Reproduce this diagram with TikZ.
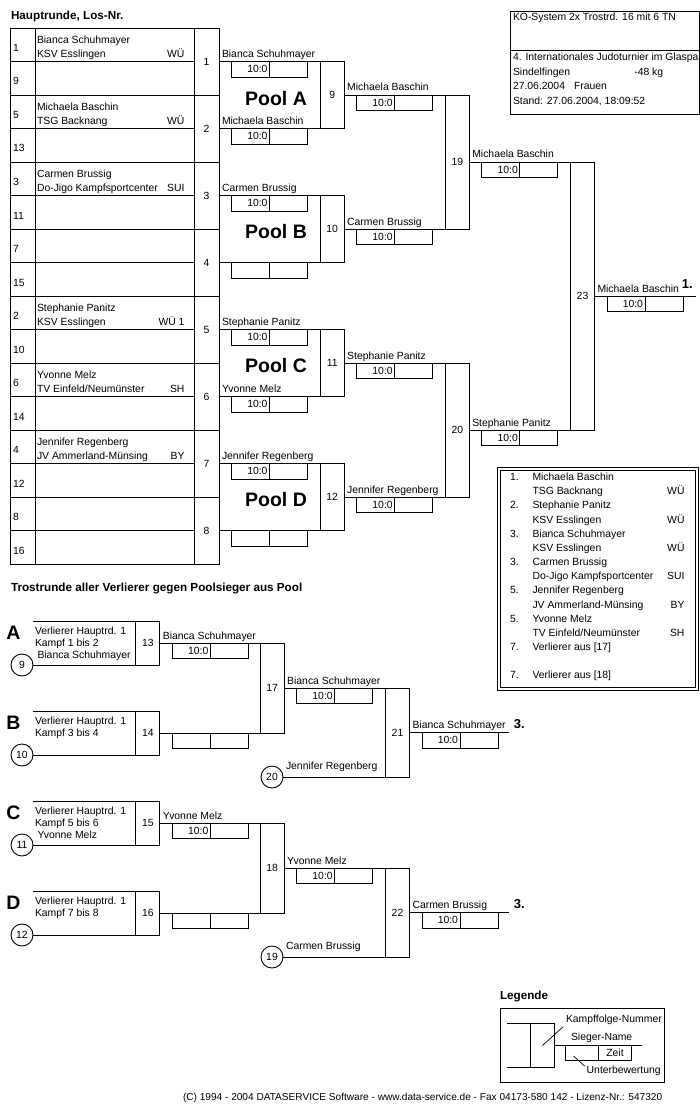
\documentclass[tikz,border=0pt]{standalone}
\usepackage{fontspec}
\setmainfont{Liberation Sans}
\begin{document}
\begin{tikzpicture}[x=1pt,y=-1pt,line width=0.9pt,
  txt/.style={font=\fontsize{10.4}{12}\selectfont,inner sep=0pt,outer sep=0pt},
  titel/.style={font=\bfseries\fontsize{11.7}{13}\selectfont,inner sep=0pt,outer sep=0pt},
  poolname/.style={font=\bfseries\fontsize{19.5}{22}\selectfont,inner sep=0pt},
  platz/.style={font=\bfseries\fontsize{13}{14}\selectfont,inner sep=0pt},
  kampf/.style={draw,txt,minimum width=24pt},
  losbox/.style={draw,txt,minimum width=25pt,minimum height=67pt},
  erg/.style={draw,txt,anchor=north west,xshift=12.5pt,minimum height=15.5pt,text width=34pt,inner xsep=2pt,align=right},
  leer/.style={draw,anchor=west,minimum width=38pt,minimum height=15.5pt,inner sep=0pt,outer sep=0pt},
  sieger/.style={txt,anchor=base west,xshift=3pt,yshift=4pt},
  kreis/.style={draw,circle,txt,minimum size=22pt}]
\useasboundingbox (0,0) rectangle (700,1110);
\fill[white] (0,0) rectangle (700,1110);

% Hauptrunde
\node[titel,anchor=base west] (haupt) at (11,20) {Hauptrunde, Los-Nr.};
\draw (10,28) rectangle (194,564);
\draw (35,28) -- (35,564);
\draw (10,61.5) -- (194,61.5);
\draw (10,95) -- (194,95);
\draw (10,128.5) -- (194,128.5);
\draw (10,162) -- (194,162);
\draw (10,195.5) -- (194,195.5);
\draw (10,229) -- (194,229);
\draw (10,262.5) -- (194,262.5);
\draw (10,296) -- (194,296);
\draw (10,329.5) -- (194,329.5);
\draw (10,363) -- (194,363);
\draw (10,396.5) -- (194,396.5);
\draw (10,430) -- (194,430);
\draw (10,463.5) -- (194,463.5);
\draw (10,497) -- (194,497);
\draw (10,530.5) -- (194,530.5);

\node[txt,anchor=base west] (los1) at (13,51.5) {1};
\node[txt,anchor=base west] (los9) at (13,85) {9};
\node[txt,anchor=base west] (los5) at (13,118.5) {5};
\node[txt,anchor=base west] (los13) at (13,152) {13};
\node[txt,anchor=base west] (los3) at (13,185.5) {3};
\node[txt,anchor=base west] (los11) at (13,219) {11};
\node[txt,anchor=base west] (los7) at (13,252.5) {7};
\node[txt,anchor=base west] (los15) at (13,286) {15};
\node[txt,anchor=base west] (los2) at (13,319.5) {2};
\node[txt,anchor=base west] (los10) at (13,353) {10};
\node[txt,anchor=base west] (los6) at (13,386.5) {6};
\node[txt,anchor=base west] (los14) at (13,420) {14};
\node[txt,anchor=base west] (los4) at (13,453.5) {4};
\node[txt,anchor=base west] (los12) at (13,487) {12};
\node[txt,anchor=base west] (los8) at (13,520.5) {8};
\node[txt,anchor=base west] (los16) at (13,554) {16};

\node[txt,anchor=base west] (name1) at (37,43.3) {Bianca Schuhmayer};
\node[txt,anchor=base west] (verein1) at (37,57.3) {KSV Esslingen};
\node[txt,anchor=base east] (lv1) at (184.5,57.3) {WÜ};
\node[txt,anchor=base west] (name5) at (37,110.3) {Michaela Baschin};
\node[txt,anchor=base west] (verein5) at (37,124.3) {TSG Backnang};
\node[txt,anchor=base east] (lv5) at (184.5,124.3) {WÜ};
\node[txt,anchor=base west] (name3) at (37,177.3) {Carmen Brussig};
\node[txt,anchor=base west] (verein3) at (37,191.3) {Do-Jigo Kampfsportcenter};
\node[txt,anchor=base east] (lv3) at (184.5,191.3) {SUI};
\node[txt,anchor=base west] (name2) at (37,311.3) {Stephanie Panitz};
\node[txt,anchor=base west] (verein2) at (37,325.3) {KSV Esslingen};
\node[txt,anchor=base east] (lv2) at (184.5,325.3) {WÜ 1};
\node[txt,anchor=base west] (name6) at (37,378.3) {Yvonne Melz};
\node[txt,anchor=base west] (verein6) at (37,392.3) {TV Einfeld/Neumünster};
\node[txt,anchor=base east] (lv6) at (184.5,392.3) {SH};
\node[txt,anchor=base west] (name4) at (37,445.3) {Jennifer Regenberg};
\node[txt,anchor=base west] (verein4) at (37,459.3) {JV Ammerland-Münsing};
\node[txt,anchor=base east] (lv4) at (184.5,459.3) {BY};

% Kampfboxen
\node[losbox] (f1) at (206.5,61.5) {1};
\node[losbox] (f2) at (206.5,128.5) {2};
\node[losbox] (f3) at (206.5,195.5) {3};
\node[losbox] (f4) at (206.5,262.5) {4};
\node[losbox] (f5) at (206.5,329.5) {5};
\node[losbox] (f6) at (206.5,396.5) {6};
\node[losbox] (f7) at (206.5,463.5) {7};
\node[losbox] (f8) at (206.5,530.5) {8};
\node[kampf,minimum height=67pt] (f9) at (332.2,95) {9};
\node[kampf,minimum height=67pt] (f10) at (332.2,229) {10};
\node[kampf,minimum height=67pt] (f11) at (332.2,363) {11};
\node[kampf,minimum height=67pt] (f12) at (332.2,497) {12};
\node[kampf,minimum height=134pt] (f19) at (457.3,162) {19};
\node[kampf,minimum height=134pt] (f20) at (457.3,430) {20};
\node[kampf,minimum height=268pt] (f23) at (582.5,296) {23};
\coordinate (ziel1) at (696,296);

\draw (f1.east) -- (f9.north east);
\draw (f2.east) -- (f9.south east);
\draw (f3.east) -- (f10.north east);
\draw (f4.east) -- (f10.south east);
\draw (f5.east) -- (f11.north east);
\draw (f6.east) -- (f11.south east);
\draw (f7.east) -- (f12.north east);
\draw (f8.east) -- (f12.south east);
\draw (f9.east) -- (f19.north east);
\draw (f10.east) -- (f19.south east);
\draw (f11.east) -- (f20.north east);
\draw (f12.east) -- (f20.south east);
\draw (f19.east) -- (f23.north east);
\draw (f20.east) -- (f23.south east);
\draw (f23.east) -- (ziel1);

\node[poolname] (poolA) at (276,98.5) {Pool A};
\node[poolname] (poolB) at (276,232) {Pool B};
\node[poolname] (poolC) at (276,366) {Pool C};
\node[poolname] (poolD) at (276,500) {Pool D};

\node[sieger] (s1) at (f1.east) {Bianca Schuhmayer};
\node[erg] (e1) at (f1.east) {10:0};
\node[leer] (e1r) at (e1.east) {};
\node[sieger] (s2) at (f2.east) {Michaela Baschin};
\node[erg] (e2) at (f2.east) {10:0};
\node[leer] (e2r) at (e2.east) {};
\node[sieger] (s3) at (f3.east) {Carmen Brussig};
\node[erg] (e3) at (f3.east) {10:0};
\node[leer] (e3r) at (e3.east) {};
\node[erg] (e4) at (f4.east) {};
\node[leer] (e4r) at (e4.east) {};
\node[sieger] (s5) at (f5.east) {Stephanie Panitz};
\node[erg] (e5) at (f5.east) {10:0};
\node[leer] (e5r) at (e5.east) {};
\node[sieger] (s6) at (f6.east) {Yvonne Melz};
\node[erg] (e6) at (f6.east) {10:0};
\node[leer] (e6r) at (e6.east) {};
\node[sieger] (s7) at (f7.east) {Jennifer Regenberg};
\node[erg] (e7) at (f7.east) {10:0};
\node[leer] (e7r) at (e7.east) {};
\node[erg] (e8) at (f8.east) {};
\node[leer] (e8r) at (e8.east) {};
\node[sieger] (s9) at (f9.east) {Michaela Baschin};
\node[erg] (e9) at (f9.east) {10:0};
\node[leer] (e9r) at (e9.east) {};
\node[sieger] (s10) at (f10.east) {Carmen Brussig};
\node[erg] (e10) at (f10.east) {10:0};
\node[leer] (e10r) at (e10.east) {};
\node[sieger] (s11) at (f11.east) {Stephanie Panitz};
\node[erg] (e11) at (f11.east) {10:0};
\node[leer] (e11r) at (e11.east) {};
\node[sieger] (s12) at (f12.east) {Jennifer Regenberg};
\node[erg] (e12) at (f12.east) {10:0};
\node[leer] (e12r) at (e12.east) {};
\node[sieger] (s19) at (f19.east) {Michaela Baschin};
\node[erg] (e19) at (f19.east) {10:0};
\node[leer] (e19r) at (e19.east) {};
\node[sieger] (s20) at (f20.east) {Stephanie Panitz};
\node[erg] (e20) at (f20.east) {10:0};
\node[leer] (e20r) at (e20.east) {};
\node[sieger] (s23) at (f23.east) {Michaela Baschin};
\node[erg] (e23) at (f23.east) {10:0};
\node[leer] (e23r) at (e23.east) {};
\node[platz,anchor=base west] (platz1) at (681.5,288.5) {1.};

% Kopf
\draw (510.7,11) rectangle (699.3,114.3);
\draw (510.7,50) -- (699.3,50);
\begin{scope}
\clip (510.7,11) rectangle (699.3,114.3);
\node[txt,anchor=base west] (kopf1) at (513,21) {KO-System 2x Trostrd. 16 mit 6 TN};
\node[txt,anchor=base west] (kopf2) at (513,60.3) {4. Internationales Judoturnier im Glaspa};
\node[txt,anchor=base west] (kopf3) at (513,75.3) {Sindelfingen};
\node[txt,anchor=base west] (kopf3b) at (634.3,75.3) {-48 kg};
\node[txt,anchor=base west] (kopf4) at (513,89.3) {27.06.2004};
\node[txt,anchor=base west] (kopf4b) at (574,89.3) {Frauen};
\node[txt,anchor=base west] (kopf5) at (513,104.3) {Stand: 27.06.2004, 18:09:52};
\end{scope}

% Platzierungen
\draw (497,467) rectangle (698,690);
\draw (500,470) rectangle (695,687);
\node[txt,anchor=base west] (p1) at (510,480.5) {1.};
\node[txt,anchor=base west] (pn1) at (532.5,480.5) {Michaela Baschin};
\node[txt,anchor=base west] (pv1) at (532.5,494.8) {TSG Backnang};
\node[txt,anchor=base east] (pl1) at (684.5,494.8) {WÜ};
\node[txt,anchor=base west] (p2) at (510,508.8) {2.};
\node[txt,anchor=base west] (pn2) at (532.5,508.8) {Stephanie Panitz};
\node[txt,anchor=base west] (pv2) at (532.5,523.1) {KSV Esslingen};
\node[txt,anchor=base east] (pl2) at (684.5,523.1) {WÜ};
\node[txt,anchor=base west] (p3) at (510,537.1) {3.};
\node[txt,anchor=base west] (pn3) at (532.5,537.1) {Bianca Schuhmayer};
\node[txt,anchor=base west] (pv3) at (532.5,551.4) {KSV Esslingen};
\node[txt,anchor=base east] (pl3) at (684.5,551.4) {WÜ};
\node[txt,anchor=base west] (p4) at (510,565.4) {3.};
\node[txt,anchor=base west] (pn4) at (532.5,565.4) {Carmen Brussig};
\node[txt,anchor=base west] (pv4) at (532.5,579.7) {Do-Jigo Kampfsportcenter};
\node[txt,anchor=base east] (pl4) at (684.5,579.7) {SUI};
\node[txt,anchor=base west] (p5) at (510,593.7) {5.};
\node[txt,anchor=base west] (pn5) at (532.5,593.7) {Jennifer Regenberg};
\node[txt,anchor=base west] (pv5) at (532.5,608) {JV Ammerland-Münsing};
\node[txt,anchor=base east] (pl5) at (684.5,608) {BY};
\node[txt,anchor=base west] (p6) at (510,622) {5.};
\node[txt,anchor=base west] (pn6) at (532.5,622) {Yvonne Melz};
\node[txt,anchor=base west] (pv6) at (532.5,636.3) {TV Einfeld/Neumünster};
\node[txt,anchor=base east] (pl6) at (684.5,636.3) {SH};
\node[txt,anchor=base west] (p7) at (510,650.3) {7.};
\node[txt,anchor=base west] (pn7) at (532.5,650.3) {Verlierer aus [17]};
\node[txt,anchor=base west] (p8) at (510,678.6) {7.};
\node[txt,anchor=base west] (pn8) at (532.5,678.6) {Verlierer aus [18]};

% Trostrunde
\node[titel,anchor=base west] (trost) at (11,591.7) {Trostrunde aller Verlierer gegen Poolsieger aus Pool};

\node[poolname] (bA) at (13.5,632.5) {A};
\node[poolname] (bB) at (13.5,722.5) {B};
\node[poolname] (bC) at (13.5,812.5) {C};
\node[poolname] (bD) at (13.5,902.5) {D};
\coordinate (ta) at (33,621);
\coordinate (tb) at (33,711);
\coordinate (tc) at (33,801);
\coordinate (td) at (33,891);
\node[kreis] (c9) at (22,665) {9};
\node[kreis] (c10) at (22,755) {10};
\node[kreis] (c11) at (22,845) {11};
\node[kreis] (c12) at (22,935) {12};
\node[kreis] (c20) at (272,777) {20};
\node[kreis] (c19) at (272,957) {19};

\node[txt,anchor=base west] (ta1) at (35,634) {Verlierer Hauptrd. 1};
\node[txt,anchor=base west] (ta2) at (35,646) {Kampf 1 bis 2};
\node[txt,anchor=base west] (ta3) at (37.5,658) {Bianca Schuhmayer};
\node[txt,anchor=base west] (tb1) at (35,724) {Verlierer Hauptrd. 1};
\node[txt,anchor=base west] (tb2) at (35,736) {Kampf 3 bis 4};
\node[txt,anchor=base west] (tc1) at (35,814) {Verlierer Hauptrd. 1};
\node[txt,anchor=base west] (tc2) at (35,826) {Kampf 5 bis 6};
\node[txt,anchor=base west] (tc3) at (37.5,838) {Yvonne Melz};
\node[txt,anchor=base west] (td1) at (35,904) {Verlierer Hauptrd. 1};
\node[txt,anchor=base west] (td2) at (35,916) {Kampf 7 bis 8};

\node[kampf,minimum height=44pt] (f13) at (147.9,643) {13};
\node[kampf,minimum height=44pt] (f14) at (147.9,733) {14};
\node[kampf,minimum height=44pt] (f15) at (147.9,823) {15};
\node[kampf,minimum height=44pt] (f16) at (147.9,913) {16};
\node[kampf,minimum height=90pt] (f17) at (272.2,688) {17};
\node[kampf,minimum height=90pt] (f18) at (272.2,868) {18};
\node[kampf,minimum height=89pt] (f21) at (397.5,732.5) {21};
\node[kampf,minimum height=89pt] (f22) at (397.5,912.5) {22};
\coordinate (ziel3a) at (509.3,732.5);
\coordinate (ziel3b) at (509.3,912.5);

\draw (ta) -- (f13.north east);
\draw (c9) -- (f13.south east);
\draw (tb) -- (f14.north east);
\draw (c10) -- (f14.south east);
\draw (tc) -- (f15.north east);
\draw (c11) -- (f15.south east);
\draw (td) -- (f16.north east);
\draw (c12) -- (f16.south east);
\draw (f13.east) -- (f17.north east);
\draw (f14.east) -- (f17.south east);
\draw (f15.east) -- (f18.north east);
\draw (f16.east) -- (f18.south east);
\draw (f17.east) -- (f21.north east);
\draw (c20) -- (f21.south east);
\draw (f18.east) -- (f22.north east);
\draw (c19) -- (f22.south east);
\draw (f21.east) -- (ziel3a);
\draw (f22.east) -- (ziel3b);

\node[sieger] (s13) at (f13.east) {Bianca Schuhmayer};
\node[erg] (e13) at (f13.east) {10:0};
\node[leer] (e13r) at (e13.east) {};
\node[erg] (e14) at (f14.east) {};
\node[leer] (e14r) at (e14.east) {};
\node[sieger] (s17) at (f17.east) {Bianca Schuhmayer};
\node[erg] (e17) at (f17.east) {10:0};
\node[leer] (e17r) at (e17.east) {};
\node[sieger,yshift=3.5pt] (s20b) at (c20.east) {Jennifer Regenberg};
\node[sieger] (s21) at (f21.east) {Bianca Schuhmayer};
\node[erg] (e21) at (f21.east) {10:0};
\node[leer] (e21r) at (e21.east) {};
\node[platz,anchor=base west] (platz3a) at (513.5,728) {3.};

\node[sieger] (s15) at (f15.east) {Yvonne Melz};
\node[erg] (e15) at (f15.east) {10:0};
\node[leer] (e15r) at (e15.east) {};
\node[erg] (e16) at (f16.east) {};
\node[leer] (e16r) at (e16.east) {};
\node[sieger] (s18) at (f18.east) {Yvonne Melz};
\node[erg] (e18) at (f18.east) {10:0};
\node[leer] (e18r) at (e18.east) {};
\node[sieger,yshift=3.5pt] (s19b) at (c19.east) {Carmen Brussig};
\node[sieger] (s22) at (f22.east) {Carmen Brussig};
\node[erg] (e22) at (f22.east) {10:0};
\node[leer] (e22r) at (e22.east) {};
\node[platz,anchor=base west] (platz3b) at (513.5,908) {3.};

% Legende
\node[titel,anchor=base west] (leg) at (500,999.5) {Legende};
\draw (500,1008) rectangle (664,1082);
\node[kampf,minimum width=23.6pt,minimum height=44.4pt] (lk) at (542.5,1045.5) {};
\coordinate (lo) at (507.3,1023.3);
\coordinate (lu) at (507.3,1067.7);
\coordinate (lz) at (641.7,1045.5);
\draw (lo) -- (lk.north east);
\draw (lu) -- (lk.south east);
\draw (lk.east) -- (lz);
\node[draw,anchor=north west,minimum width=32.6pt,minimum height=14.7pt,inner sep=0pt,outer sep=0pt] (lw) at (565.7,1045.5) {};
\node[draw,txt,anchor=west,minimum width=33.4pt,minimum height=14.7pt] (lzeit) at (lw.east) {Zeit};
\node[txt,anchor=base west] (lkn) at (566,1022.7) {Kampffolge-Nummer};
\node[txt,anchor=base west] (lsn) at (571,1040) {Sieger-Name};
\node[txt,anchor=base west] (lub) at (586.7,1073.6) {Unterbewertung};
\draw[line width=0.7pt] (lk.center) -- ([xshift=-3pt,yshift=-2pt]lkn.south west);
\draw[line width=0.7pt] ([xshift=8pt,yshift=4pt]lw.south west) -- ([xshift=-2pt]lub.north west);

\node[txt,font=\fontsize{10.1}{12}\selectfont,anchor=base west] (fuss) at (183,1100) {(C) 1994 - 2004 DATASERVICE Software - www.data-service.de - Fax 04173-580 142 - Lizenz-Nr.: 547320};
\end{tikzpicture}
\end{document}
